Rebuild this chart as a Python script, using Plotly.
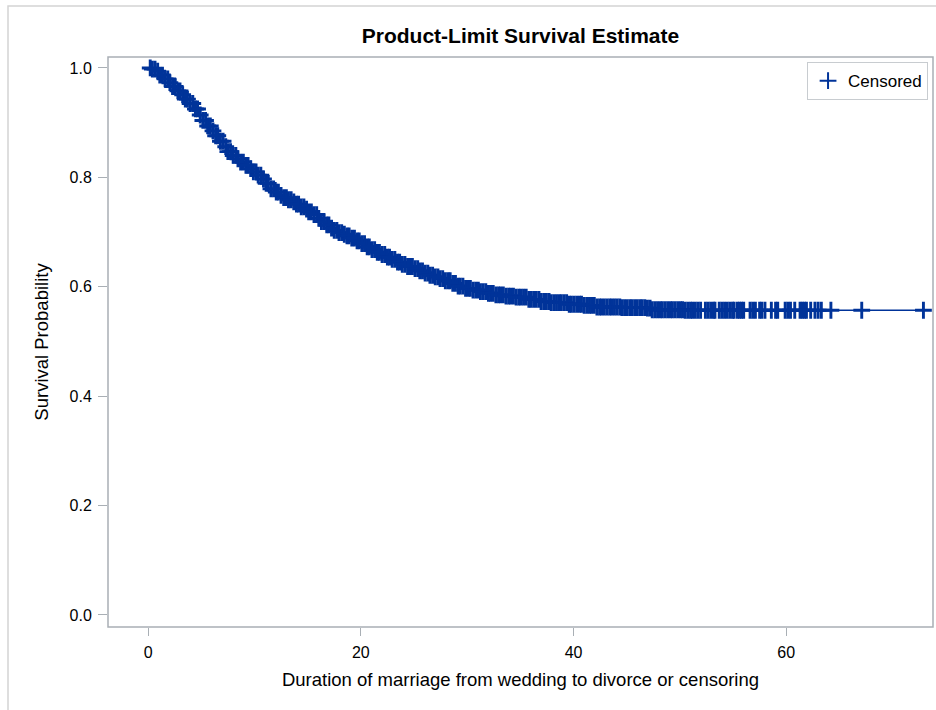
import numpy as np
import plotly.graph_objects as go

# Kaplan-Meier estimate: event times (years) and survival just after each event
event_times = [
    0.3, 0.7, 1.1, 1.5, 1.9, 2.3, 2.7, 3.1, 3.5, 3.9,
    4.3, 4.7, 5.1, 5.5, 5.9, 6.3, 6.7, 7.1, 7.5, 7.9,
    8.3, 8.7, 9.1, 9.5, 9.9, 10.3, 10.7, 11.1, 11.5, 11.9,
    12.3, 12.7, 13.1, 13.5, 13.9, 14.3, 14.7, 15.1, 15.5, 15.9,
    16.3, 16.7, 17.1, 17.5, 17.9, 18.3, 18.7, 19.1, 19.5, 19.9,
    20.4, 20.9, 21.4, 21.9, 22.4, 22.9, 23.4, 23.9, 24.4, 24.9,
    25.4, 25.9, 26.4, 26.9, 27.4, 27.9, 28.5, 29.1, 29.7, 30.4,
    31.1, 31.8, 32.6, 33.5, 34.6, 35.8, 36.9, 37.9, 39.5, 41.0,
    42.0, 44.5, 46.8, 47.4, 50.5,
]
survival = [
    0.998, 0.994, 0.987, 0.980, 0.973, 0.966, 0.958, 0.951, 0.943, 0.935,
    0.925, 0.914, 0.904, 0.894, 0.885, 0.876, 0.866, 0.856, 0.847, 0.840,
    0.834, 0.828, 0.822, 0.816, 0.810, 0.804, 0.797, 0.789, 0.779, 0.773,
    0.767, 0.763, 0.759, 0.755, 0.751, 0.746, 0.742, 0.737, 0.732, 0.725,
    0.719, 0.713, 0.707, 0.703, 0.699, 0.696, 0.693, 0.689, 0.684, 0.679,
    0.673, 0.668, 0.663, 0.659, 0.654, 0.650, 0.645, 0.641, 0.637, 0.633,
    0.629, 0.625, 0.621, 0.618, 0.615, 0.611, 0.606, 0.601, 0.597, 0.594,
    0.591, 0.588, 0.585, 0.583, 0.581, 0.577, 0.573, 0.571, 0.568, 0.566,
    0.563, 0.562, 0.561, 0.558, 0.557,
]

# Censoring times (years)
censored_times = [
    0.2, 0.4, 0.65, 0.9, 1.1, 1.35, 1.6, 1.85, 2.05, 2.3,
    2.55, 2.8, 3.0, 3.25, 3.5, 3.7, 3.95, 4.2, 4.45, 4.65,
    4.9, 5.15, 5.4, 5.6, 5.85, 6.1, 6.35, 6.55, 6.8, 7.05,
    7.3, 7.5, 7.75, 8.0, 8.25, 8.45, 8.7, 8.95, 9.2, 9.4,
    9.65, 9.9, 10.15, 10.35, 10.6, 10.85, 11.1, 11.3, 11.55, 11.8,
    12.05, 12.25, 12.5, 12.75, 13.0, 13.2, 13.45, 13.7, 13.95, 14.15,
    14.4, 14.65, 14.9, 15.1, 15.35, 15.6, 15.85, 16.05, 16.3, 16.55,
    16.8, 17.0, 17.25, 17.5, 17.75, 17.95, 18.2, 18.45, 18.7, 18.9,
    19.15, 19.4, 19.65, 19.85, 20.1, 20.35, 20.6, 20.8, 21.05, 21.3,
    21.55, 21.75, 22.0, 22.25, 22.5, 22.7, 22.95, 23.2, 23.45, 23.65,
    23.9, 24.15, 24.4, 24.6, 24.85, 25.1, 25.35, 25.55, 25.8, 26.05,
    26.3, 26.5, 26.75, 27.0, 27.25, 27.45, 27.7, 27.95, 28.2, 28.4,
    28.65, 28.9, 29.15, 29.35, 29.6, 29.85, 30.1, 30.3, 30.55, 30.8,
    31.05, 31.25, 31.5, 31.75, 32.0, 32.2, 32.45, 32.7, 32.95, 33.15,
    33.4, 33.65, 33.9, 34.1, 34.35, 34.6, 34.85, 35.05, 35.3, 35.55,
    35.8, 36.0, 36.25, 36.5, 36.75, 36.95, 37.2, 37.45, 37.7, 37.9,
    38.15, 38.4, 38.65, 38.85, 39.1, 39.35, 39.6, 39.8, 40.05, 40.3,
    40.55, 40.75, 41.0, 41.25, 41.5, 41.7, 41.95, 42.2, 42.45, 42.65,
    42.9, 43.15, 43.4, 43.6, 43.85, 44.1, 44.35, 44.55, 44.8, 45.05,
    45.3, 45.5, 45.75, 46.0, 46.25, 46.45, 46.7, 46.95, 47.2, 47.4,
    47.65, 47.9, 48.15, 48.35, 48.6, 48.85, 49.1, 49.3, 49.55, 49.8,
    50.05, 50.25, 50.5, 50.75, 51.0, 51.2, 51.45, 51.7, 51.95,
    52.4, 52.65, 52.9, 53.15, 53.3, 53.7, 53.95, 54.2, 54.45, 54.7,
    54.95, 55.1, 55.4, 55.6, 55.8, 56.0, 56.6, 56.85, 57.1, 57.5,
    57.7, 58.0, 58.6, 59.0, 59.2, 59.9, 60.15, 60.4, 60.8, 61.3,
    61.5, 61.7, 61.9, 62.3, 62.7, 63.0, 63.3, 64.2, 67.1, 72.9,
]

x_ticks = [0, 20, 40, 60]
y_ticks = [0.0, 0.2, 0.4, 0.6, 0.8, 1.0]
y_tick_labels = ["0.0", "0.2", "0.4", "0.6", "0.8", "1.0"]

BLUE = "#003399"
FRAME = "#A9AFB5"
FONT = "Liberation Sans, Arial, sans-serif"

# plot-area geometry in pixels
W, H = 936, 710
L, R, T, B = 108, 3, 57, 83
PW, PH = W - L - R, H - T - B

ev_t = np.array(event_times)
ev_s = np.array(survival)
cen_t = np.array(censored_times)

# survival at each censoring time
idx = np.searchsorted(ev_t, cen_t, side="right") - 1
cen_s = np.where(idx >= 0, ev_s[np.clip(idx, 0, None)], 1.0)

curve_x = np.concatenate([[0.0], ev_t, [cen_t.max()]])
curve_y = np.concatenate([[1.0], ev_s, [ev_s[-1]]])

fig = go.Figure()
fig.add_trace(go.Scatter(
    x=curve_x, y=curve_y, mode="lines", line_shape="hv",
    line=dict(color=BLUE, width=1.5), showlegend=False, hoverinfo="skip",
))
fig.add_trace(go.Scatter(
    x=cen_t, y=cen_s, mode="markers", name="Censored",
    marker=dict(symbol="cross-thin", size=12, color=BLUE,
                line=dict(color=BLUE, width=2.9)),
))

fig.update_layout(
    width=W, height=H,
    margin=dict(l=L, r=R, t=T, b=B),
    paper_bgcolor="white", plot_bgcolor="white",
    font=dict(family=FONT, size=16, color="#000000"),
    title=dict(text="<b>Product-Limit Survival Estimate</b>",
               x=(L + W - R) / 2 / W, xanchor="center",
               y=1 - 36 / H, yanchor="middle",
               font=dict(family=FONT, size=21, color="#000000")),
    showlegend=True,
    legend=dict(x=0.994, y=0.991, xanchor="right", yanchor="top",
                bgcolor="white", bordercolor="#C8CCD0", borderwidth=1,
                font=dict(family=FONT, size=17, color="#000000"),
                itemsizing="constant", itemwidth=30, tracegroupgap=0),
    shapes=[
        dict(type="rect", xref="paper", yref="paper",
             x0=0, x1=1, y0=0, y1=1,
             line=dict(color=FRAME, width=1.5), layer="above"),
        dict(type="rect", xref="paper", yref="paper",
             x0=-(L - 8) / PW, x1=1.02, y0=-0.2, y1=1 + (T - 6) / PH,
             line=dict(color="#D4D4D4", width=1.5), layer="below"),
    ],
)

fig.update_xaxes(
    range=[-3.77, 73.8], tickvals=x_ticks, ticks="outside", ticklen=8,
    tickcolor=FRAME, showgrid=False, zeroline=False, showline=False,
    ticklabelstandoff=3,
    title=dict(text="Duration of marriage from wedding to divorce or censoring",
               standoff=12, font=dict(family=FONT, size=18.5)),
    tickfont=dict(family=FONT, size=16),
)
fig.update_yaxes(
    range=[-0.022, 1.02], tickvals=y_ticks, ticktext=y_tick_labels,
    ticks="outside", ticklen=9, tickcolor=FRAME, showgrid=False,
    zeroline=False, showline=False, ticklabelstandoff=3,
    title=dict(text="Survival Probability", standoff=16,
               font=dict(family=FONT, size=18.5)),
    tickfont=dict(family=FONT, size=16),
)

fig.write_html("out.html")
